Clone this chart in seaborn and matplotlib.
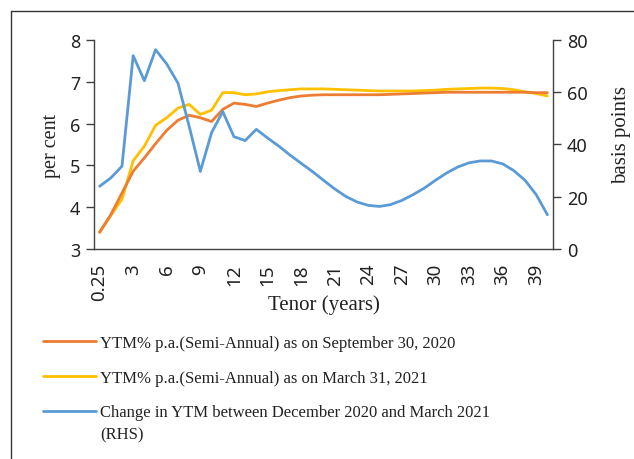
import matplotlib
matplotlib.use("Agg")
import matplotlib.pyplot as plt
import seaborn as sns
import pandas as pd
import numpy as np
from matplotlib.lines import Line2D

# --- data ---
tenor_labels = ['0.25'] + [str(t) for t in range(1, 41)]

ytm_sep_2020 = [3.40, 3.82, 4.34, 4.86, 5.18, 5.52, 5.84, 6.08, 6.20, 6.14,
                6.05, 6.34, 6.49, 6.46, 6.41, 6.49, 6.56, 6.62, 6.66, 6.68,
                6.69, 6.69, 6.69, 6.69, 6.69, 6.69, 6.70, 6.71, 6.72, 6.73,
                6.74, 6.75, 6.75, 6.75, 6.75, 6.75, 6.75, 6.75, 6.75, 6.74,
                6.74]

ytm_mar_2021 = [3.40, 3.80, 4.19, 5.11, 5.46, 5.96, 6.14, 6.37, 6.46, 6.22,
                6.32, 6.74, 6.74, 6.69, 6.71, 6.76, 6.79, 6.81, 6.83, 6.83,
                6.83, 6.82, 6.81, 6.80, 6.79, 6.78, 6.78, 6.78, 6.78, 6.79,
                6.80, 6.82, 6.83, 6.84, 6.85, 6.85, 6.84, 6.81, 6.76, 6.72,
                6.66]

change_bps = [24.0, 27.2, 31.7, 74.0, 64.4, 76.3, 70.8, 63.5, 47.0, 29.7,
              44.5, 52.6, 43.0, 41.5, 45.8, 42.5, 39.4, 36.0, 32.8, 29.7,
              26.3, 23.0, 20.1, 18.0, 16.7, 16.3, 17.0, 18.6, 20.8, 23.3,
              26.3, 29.1, 31.4, 33.0, 33.7, 33.7, 32.6, 30.0, 26.3, 20.8,
              13.1]

label_sep = "YTM% p.a.(Semi-Annual) as on September 30, 2020"
label_mar = "YTM% p.a.(Semi-Annual) as on March 31, 2021"
label_chg = "Change in YTM between December 2020 and March 2021"

df = pd.DataFrame({
    'pos': np.arange(len(tenor_labels)),
    'sep': ytm_sep_2020,
    'mar': ytm_mar_2021,
    'chg': change_bps,
})

# --- style ---
sns.set_style("white")
plt.rcParams['font.family'] = ['Noto Sans', 'DejaVu Sans']
SERIF = ['Liberation Serif', 'DejaVu Serif']
AXIS_COL = '#404040'
TXT_COL = '#222222'
C_ORANGE = '#ED7D31'
C_YELLOW = '#FFC000'
C_BLUE = '#5B9BD5'

fig = plt.figure(figsize=(6.34, 4.6), dpi=100)
ax = fig.add_axes([94 / 634, 1 - 250 / 460, (553 - 94) / 634, (250 - 41) / 460])
ax2 = ax.twinx()

sns.lineplot(data=df, x='pos', y='sep', ax=ax, color=C_ORANGE, linewidth=2.0)
sns.lineplot(data=df, x='pos', y='mar', ax=ax, color=C_YELLOW, linewidth=2.0)
sns.lineplot(data=df, x='pos', y='chg', ax=ax2, color=C_BLUE, linewidth=2.0)
ax.lines[0].set_zorder(3)

n = len(tenor_labels)
ax.set_xlim(-0.5, n - 0.5)
ax.set_ylim(3, 8)
ax2.set_ylim(0, 80)
ax.set_yticks(range(3, 9))
ax2.set_yticks(range(0, 81, 20))

label_idx = list(range(0, n, 3))
ax.set_xticks(label_idx)
ax.set_xticklabels([tenor_labels[i] for i in label_idx], rotation=90)
ax.set_xticks(np.arange(-0.5, n, 1.0), minor=True)
ax.tick_params(axis='x', which='major', length=0, pad=10, labelsize=13.5, colors=TXT_COL)
ax.tick_params(axis='x', which='minor', length=6, width=1, color=AXIS_COL, direction='out')
ax.tick_params(axis='y', length=6, width=1, color=AXIS_COL, labelsize=13, labelcolor=TXT_COL, pad=4)
ax2.tick_params(axis='y', length=6, width=1, color=AXIS_COL, labelsize=13, labelcolor=TXT_COL, pad=4)

for a in (ax, ax2):
    for side in ('top', 'left', 'right', 'bottom'):
        a.spines[side].set_visible(False)
ax.spines['left'].set_visible(True)
ax.spines['bottom'].set_visible(True)
ax2.spines['right'].set_visible(True)
for sp in (ax.spines['left'], ax.spines['bottom'], ax2.spines['right']):
    sp.set_color(AXIS_COL)
    sp.set_linewidth(1.0)

ax.set_xlabel("Tenor (years)", fontsize=15, family=SERIF, color=TXT_COL)
ax.xaxis.set_label_coords(0.5, -(295 - 250) / 209)
ax.set_ylabel("per cent", fontsize=14.5, family=SERIF, color=TXT_COL, labelpad=6)
ax2.set_ylabel("basis points", fontsize=15, family=SERIF, color=TXT_COL)
ax2.yaxis.set_label_coords((612 - 94) / 459, (250 - 135) / 209)

# --- legend below the chart ---
handles = [Line2D([], [], color=C_ORANGE, linewidth=2.0),
           Line2D([], [], color=C_YELLOW, linewidth=2.0),
           Line2D([], [], color=C_BLUE, linewidth=2.0)]
leg = fig.legend(handles, [label_sep, label_mar, label_chg],
                 loc='upper left', bbox_to_anchor=(43 / 634, 1 - 336 / 460),
                 frameon=False, prop={'family': SERIF, 'size': 12},
                 handlelength=3.2, handletextpad=0.24, labelspacing=1.12,
                 borderaxespad=0, borderpad=0)
for t in leg.get_texts():
    t.set_color(TXT_COL)
fig.text(100 / 634, 1 - 435 / 460, "(RHS)", family=SERIF, fontsize=12,
         color=TXT_COL, va='center', ha='left')

# outer frame (top and left edges)
fig.add_artist(Line2D([11 / 634, 1.0], [1 - 12 / 460, 1 - 12 / 460],
                      transform=fig.transFigure, color='#333333', linewidth=1.0))
fig.add_artist(Line2D([11 / 634, 11 / 634], [0.0, 1 - 12 / 460],
                      transform=fig.transFigure, color='#333333', linewidth=1.0))

fig.savefig("out.png", dpi=100)
